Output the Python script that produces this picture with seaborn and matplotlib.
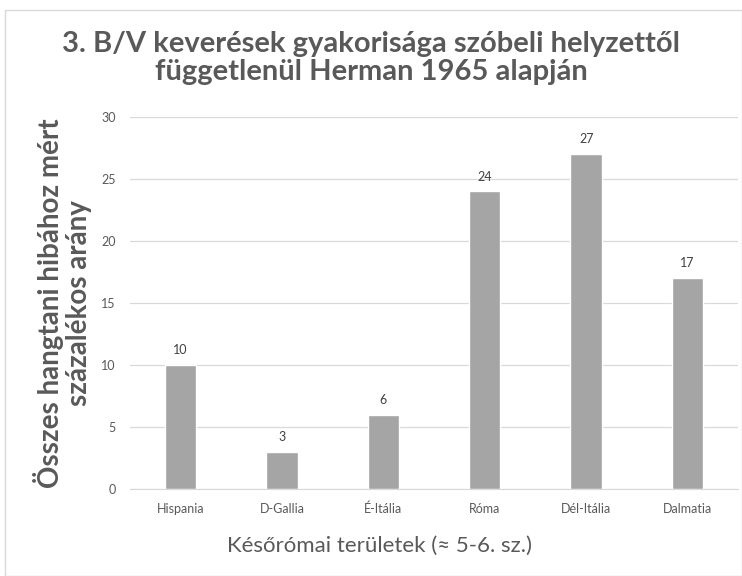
import matplotlib
matplotlib.use("Agg")
import matplotlib.pyplot as plt
import seaborn as sns
import pandas as pd
from matplotlib.patches import Rectangle

# Adatok
teruletek = ["Hispania", "D-Gallia", "É-Itália", "Róma", "Dél-Itália", "Dalmatia"]
aranyok = [10, 3, 6, 24, 27, 17]
y_ticks = [0, 5, 10, 15, 20, 25, 30]

df = pd.DataFrame({"terulet": teruletek, "arany": aranyok})

sns.set_style("white")
plt.rcParams['font.family'] = ['Lato', 'DejaVu Sans']

szurke = "#595959"

fig = plt.figure(figsize=(7.42, 5.76), dpi=100)
ax = fig.add_axes([0.175, 0.151, 0.82, 0.646])

sns.barplot(data=df, x="terulet", y="arany", color="#A5A5A5", width=0.31,
            saturation=1, ax=ax)

for i, v in enumerate(aranyok):
    ax.text(i, v + 0.7, str(v), ha="center", va="bottom", fontsize=9, color="#404040")

ax.set_ylim(0, 30)
ax.set_yticks(y_ticks)
ax.yaxis.grid(True, color="#D9D9D9", linewidth=0.9)
ax.set_axisbelow(True)
for s in ["top", "right", "left"]:
    ax.spines[s].set_visible(False)
ax.spines["bottom"].set_color("#D9D9D9")
ax.tick_params(axis="both", length=0, labelsize=9, labelcolor=szurke, pad=10)
ax.tick_params(axis="y", pad=10)

ax.set_xlabel("Későrómai területek (≈ 5-6. sz.)", fontsize=16, color=szurke)
ax.xaxis.set_label_coords(0.41, -0.125)
ax.set_ylabel("Összes hangtani hibához mért\nszázalékos arány", fontsize=20,
              color=szurke, fontweight="bold", linespacing=1.12)
ax.yaxis.set_label_coords(-0.062, 0.5)

fig.text(0.5, 0.9, "3. B/V keverések gyakorisága szóbeli helyzettől\nfüggetlenül Herman 1965 alapján",
         ha="center", va="center", fontsize=21, fontweight="bold", color=szurke,
         linespacing=1.1)

# keret
fig.patches.append(Rectangle((0.007, 0.0), 0.993, 0.983, transform=fig.transFigure,
                             fill=False, edgecolor="#D9D9D9", linewidth=1))

fig.savefig("out.png", dpi=100)
